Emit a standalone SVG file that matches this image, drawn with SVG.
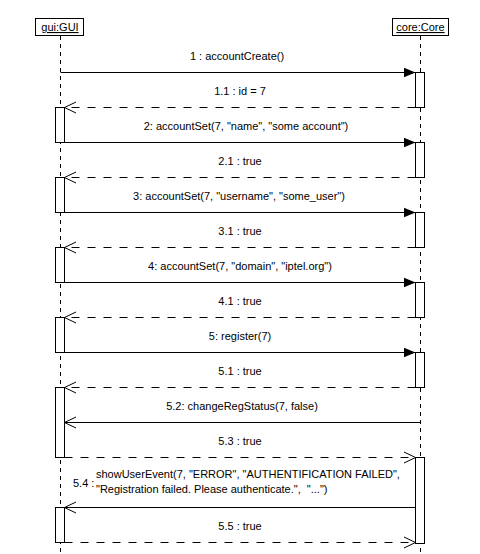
<svg xmlns="http://www.w3.org/2000/svg" width="480" height="554" viewBox="0 0 480 554">
<style>
text{font-family:"Liberation Sans",Arial,sans-serif;font-size:11px;fill:#000}
.lbl{text-anchor:middle}
.box{fill:#fff;stroke:#000;stroke-width:1}
.life{stroke:#000;stroke-width:1;stroke-dasharray:4,4;fill:none}
.act{fill:#fff;stroke:#000;stroke-width:1}
.msg{stroke:#000;stroke-width:1;fill:none}
.sync{marker-end:url(#filled)}
.ret{stroke-dasharray:8,8;marker-end:url(#open)}
.async{marker-end:url(#open)}
</style>
<defs>
<marker id="filled" markerUnits="userSpaceOnUse" markerWidth="13" markerHeight="12" refX="12" refY="5.5" orient="auto" viewBox="0 0 13 12">
<path d="M0,0.5 L12,5.5 L0,10.5 Z" fill="#000" stroke="none"/>
</marker>
<marker id="open" markerUnits="userSpaceOnUse" markerWidth="14" markerHeight="14" refX="12" refY="6.5" orient="auto" viewBox="0 0 14 14">
<path d="M0.5,1 L12,6.5 L0.5,12" fill="none" stroke="#000" stroke-width="1" stroke-dasharray="none"/>
</marker>
</defs>
<rect width="480" height="554" fill="#fff"/>
<g id="gui">
<line class="life" x1="60.5" y1="36" x2="60.5" y2="554"/>
<rect class="box" x="35.5" y="18.5" width="48" height="17"/>
<text class="lbl" x="60" y="31" text-decoration="underline">gui:GUI</text>
<rect class="act" x="55.5" y="107.5" width="9" height="35"/>
<rect class="act" x="55.5" y="177.5" width="9" height="35"/>
<rect class="act" x="55.5" y="247.5" width="9" height="35"/>
<rect class="act" x="55.5" y="317.5" width="9" height="35"/>
<rect class="act" x="55.5" y="387.5" width="9" height="70"/>
<rect class="act" x="55.5" y="507.5" width="9" height="35"/>
</g>
<g id="core">
<line class="life" x1="420.5" y1="36" x2="420.5" y2="554"/>
<rect class="box" x="392.5" y="18.5" width="56" height="17"/>
<text class="lbl" x="420.5" y="31" text-decoration="underline">core:Core</text>
<rect class="act" x="415.5" y="72.5" width="9" height="35"/>
<rect class="act" x="415.5" y="142.5" width="9" height="35"/>
<rect class="act" x="415.5" y="212.5" width="9" height="35"/>
<rect class="act" x="415.5" y="282.5" width="9" height="35"/>
<rect class="act" x="415.5" y="352.5" width="9" height="35"/>
<rect class="act" x="415.5" y="457.5" width="9" height="86"/>
</g>
<g id="connectors">
<line class="msg sync" x1="60.5" y1="72.5" x2="415.5" y2="72.5"/>
<text class="lbl" x="237" y="59.5">1 : accountCreate()</text>
<line class="msg ret" x1="415.5" y1="107.5" x2="64.5" y2="107.5"/>
<text class="lbl" x="240" y="94.5">1.1 : id = 7</text>
<line class="msg sync" x1="64.5" y1="142.5" x2="415.5" y2="142.5"/>
<text class="lbl" x="246" y="129.5">2: accountSet(7, "name", "some account")</text>
<line class="msg ret" x1="415.5" y1="177.5" x2="64.5" y2="177.5"/>
<text class="lbl" x="240" y="164.5">2.1 : true</text>
<line class="msg sync" x1="64.5" y1="212.5" x2="415.5" y2="212.5"/>
<text class="lbl" x="239" y="199.5">3: accountSet(7, "username", "some_user")</text>
<line class="msg ret" x1="415.5" y1="247.5" x2="64.5" y2="247.5"/>
<text class="lbl" x="240" y="234.5">3.1 : true</text>
<line class="msg sync" x1="64.5" y1="282.5" x2="415.5" y2="282.5"/>
<text class="lbl" x="240" y="269.5">4: accountSet(7, "domain", "iptel.org")</text>
<line class="msg ret" x1="415.5" y1="317.5" x2="64.5" y2="317.5"/>
<text class="lbl" x="240" y="304.5">4.1 : true</text>
<line class="msg sync" x1="64.5" y1="352.5" x2="415.5" y2="352.5"/>
<text class="lbl" x="240" y="339.5">5: register(7)</text>
<line class="msg ret" x1="415.5" y1="387.5" x2="64.5" y2="387.5"/>
<text class="lbl" x="240" y="374.5">5.1 : true</text>
<line class="msg async" x1="420.5" y1="422.5" x2="64.5" y2="422.5"/>
<text class="lbl" x="242" y="409.5">5.2: changeRegStatus(7, false)</text>
<line class="msg ret" x1="64.5" y1="457.5" x2="415.5" y2="457.5"/>
<text class="lbl" x="240" y="444.5">5.3 : true</text>
<line class="msg async" x1="415.5" y1="507.5" x2="64.5" y2="507.5"/>
<text x="73" y="487">5.4 :</text>
<text x="96" y="478">showUserEvent(7, "ERROR", "AUTHENTIFICATION FAILED",</text>
<text x="96" y="493" xml:space="preserve">"Registration failed. Please authenticate.",  "...")</text>
<line class="msg ret" x1="64.5" y1="542.5" x2="415.5" y2="542.5"/>
<text class="lbl" x="240" y="529.5">5.5 : true</text>
</g>
</svg>
